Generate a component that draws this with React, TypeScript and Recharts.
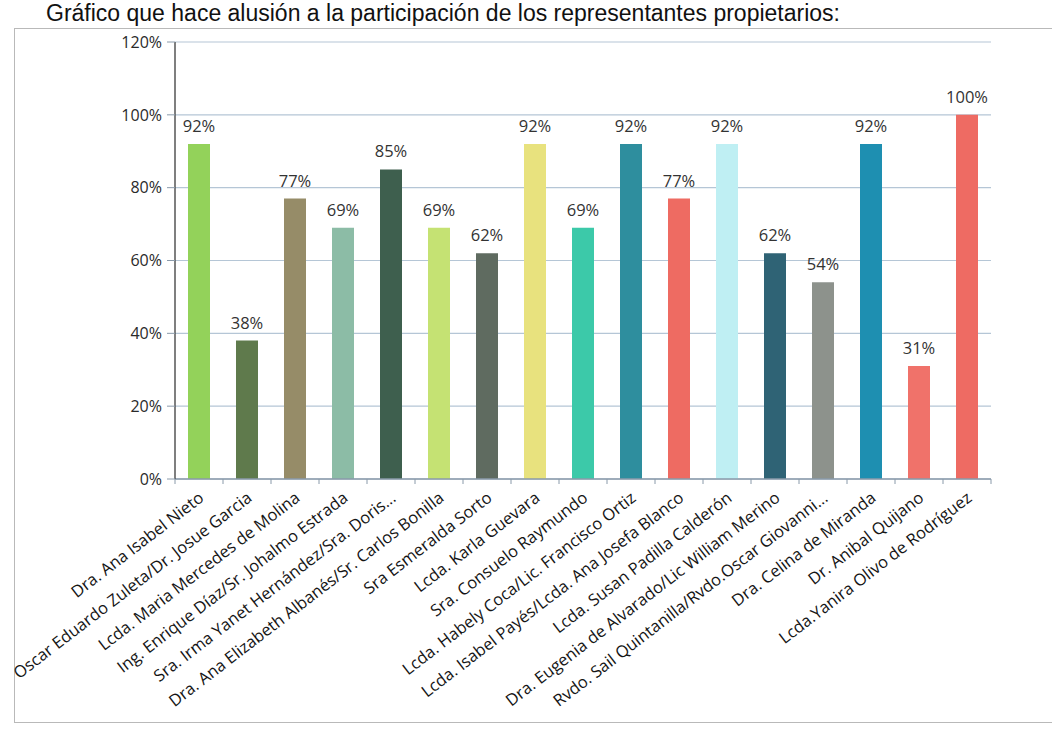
import React from "react";
import { BarChart, Bar, XAxis, YAxis, CartesianGrid, Cell, LabelList } from "recharts";

const categories: string[] = [
  "Dra. Ana Isabel Nieto",
  "Oscar Eduardo Zuleta/Dr. Josue Garcia",
  "Lcda. Maria Mercedes de Molina",
  "Ing. Enrique Díaz/Sr. Johalmo Estrada",
  "Sra. Irma Yanet Hernández/Sra. Doris...",
  "Dra. Ana Elizabeth Albanés/Sr. Carlos Bonilla",
  "Sra Esmeralda Sorto",
  "Lcda. Karla Guevara",
  "Sra. Consuelo Raymundo",
  "Lcda. Habely Coca/Lic. Francisco Ortiz",
  "Lcda. Isabel Payés/Lcda. Ana Josefa Blanco",
  "Lcda. Susan Padilla Calderón",
  "Dra. Eugenia de Alvarado/Lic William Merino",
  "Rvdo. Sail Quintanilla/Rvdo.Oscar Giovanni...",
  "Dra. Celina de Miranda",
  "Dr. Anibal Quijano",
  "Lcda.Yanira Olivo de Rodríguez",
];

const values: number[] = [92, 38, 77, 69, 85, 69, 62, 92, 69, 92, 77, 92, 62, 54, 92, 31, 100];

const colors: string[] = [
  "#93D25A", "#5F7A4C", "#968C68", "#8CBCA6", "#3E5F4E", "#C5E273",
  "#5F6B60", "#E8E27E", "#3CC9A9", "#2E8E9E", "#EE6B62", "#BFEFF3",
  "#2F6375", "#8D928C", "#1E8FB1", "#F0726A", "#EE6B63",
];

const yTicks: number[] = [0, 20, 40, 60, 80, 100, 120];

const data = categories.map((name, i) => ({ name, value: values[i] }));

const CHART_W = 1052;
const CHART_H = 742;
const MARGIN = { top: 42, right: 61, bottom: 0, left: 0 };
const Y_W = 175;
const X_H = CHART_H - MARGIN.top - 437;
const BAND = (CHART_W - MARGIN.right - Y_W) / categories.length;

const XTick = (props: any) => {
  const { x, y, payload, index } = props;
  return (
    <g>
      {index === 0 && (
        <line x1={x - BAND / 2} y1={y - 8} x2={x - BAND / 2} y2={y - 3} stroke="#8a9aaa" />
      )}
      <line x1={x + BAND / 2} y1={y - 8} x2={x + BAND / 2} y2={y - 3} stroke="#8a9aaa" />
      <g transform={`translate(${x + 6},${y + 13})`}>
        <text
          x={0}
          y={0}
          textAnchor="end"
          transform="rotate(-37.5)"
          fontFamily="Open Sans"
          fontSize={16.5}
          fill="#151515"
        >
          {payload.value}
        </text>
      </g>
    </g>
  );
};

export default function App() {
  return (
    <div style={{ position: "absolute", left: 0, top: 0, width: CHART_W, height: CHART_H, overflow: "hidden", background: "#fff" }}>
      <div
        style={{
          position: "absolute",
          right: 212,
          top: 0,
          whiteSpace: "nowrap",
          fontFamily: "Liberation Sans",
          fontSize: 23,
          lineHeight: "26px",
          color: "#111",
        }}
      >
        Gráfico que hace alusión a la participación de los representantes propietarios:
      </div>
      <div
        style={{
          position: "absolute",
          left: 14,
          top: 28,
          width: 1060,
          height: 693,
          border: "1px solid #b9b9b9",
        }}
      />
      <div style={{ position: "absolute", left: 0, top: 0 }}>
        <BarChart width={CHART_W} height={CHART_H} data={data} margin={MARGIN}>
          <CartesianGrid vertical={false} stroke="#b5c6d6" strokeWidth={1.2} />
          <XAxis
            dataKey="name"
            interval={0}
            height={X_H}
            tickLine={false}
            axisLine={{ stroke: "#8a9aaa", strokeWidth: 1.5 }}
            tick={<XTick />}
          />
          <YAxis
            domain={[0, 120]}
            ticks={yTicks}
            width={Y_W}
            tickFormatter={(v: number) => `${v}%`}
            tickSize={8}
            tickMargin={5}
            tickLine={{ stroke: "#8a9aaa" }}
            axisLine={{ stroke: "#555", strokeWidth: 1.5 }}
            tick={{ fontFamily: "Open Sans", fontSize: 16, fill: "#2a2a2a" }}
          />
          <Bar dataKey="value" barSize={22} isAnimationActive={false}>
            {data.map((d, i) => (
              <Cell key={d.name} fill={colors[i]} />
            ))}
            <LabelList
              dataKey="value"
              position="top"
              offset={12}
              formatter={(v: number) => `${v}%`}
              style={{ fontFamily: "Open Sans", fontSize: 16.5, fill: "#333" }}
            />
          </Bar>
        </BarChart>
      </div>
    </div>
  );
}
